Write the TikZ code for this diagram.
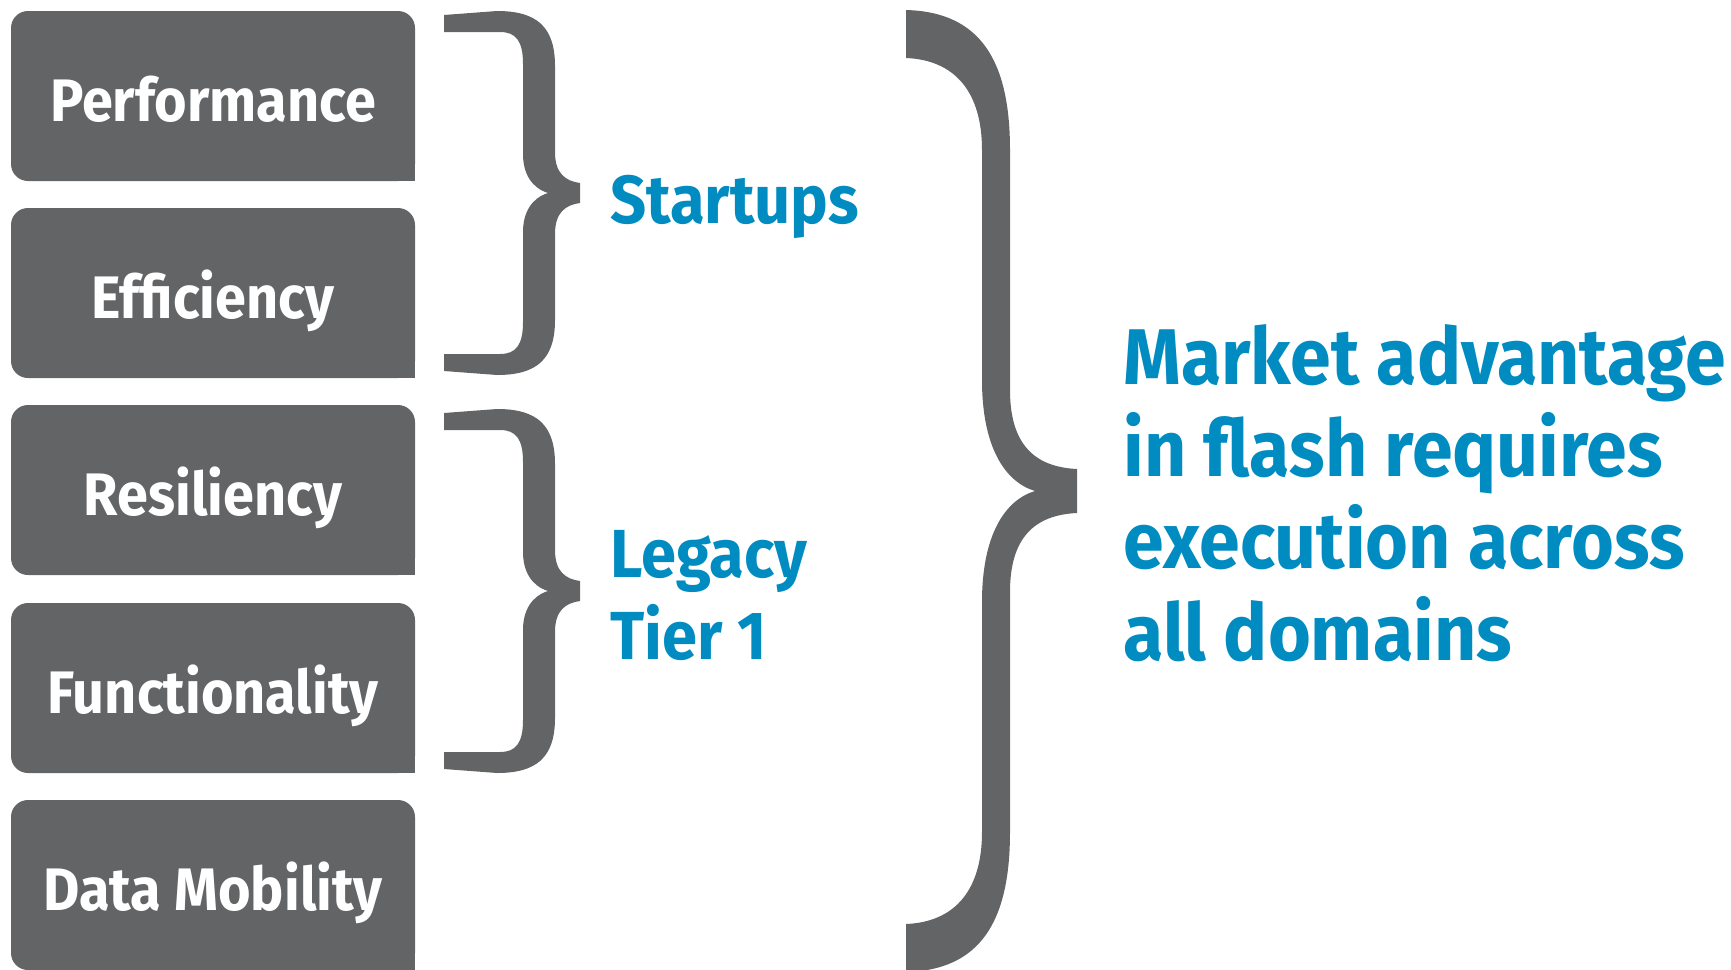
\documentclass[tikz,border=0pt]{standalone}
\usepackage{fontspec}
\setmainfont{Fira Sans}[FakeStretch=0.93]
\definecolor{hpgray}{RGB}{99,100,102}
\definecolor{hpblue}{RGB}{0,139,193}

\begin{document}
\begin{tikzpicture}[x=0.5pt, y=-0.5pt,
  domainbox/.style={fill=hpgray, rounded corners=8.5pt, minimum width=202pt, minimum height=85pt,
    inner sep=0pt, text height=25pt, text depth=0pt, text=white,
    font=\fontsize{30}{36}\selectfont\bfseries},
  grouplabel/.style={text=hpblue, inner sep=0pt, anchor=base west, align=left,
    font=\fontsize{34}{41}\selectfont\bfseries},
  claimlabel/.style={text=hpblue, inner sep=0pt, anchor=base west, align=left,
    font=\fontsize{39.5}{46}\selectfont\bfseries},
  smallbrace/.pic={
    \fill[hpgray] (444,15) -- (497,11) .. controls (537,11) and (555,27) .. (555,66)
      -- (555,152) .. controls (555,173) and (565,181) .. (580,183) -- (580,203)
      .. controls (565,205) and (555,213) .. (555,234) -- (555,320)
      .. controls (555,359) and (537,375) .. (497,375) -- (444,371) -- (444,354) -- (500,354)
      .. controls (516,354) and (523,345) .. (523,322) -- (523,232)
      .. controls (523,212) and (532,198) .. (548,193) .. controls (532,188) and (523,174) .. (523,154)
      -- (523,64) .. controls (523,41) and (516,32) .. (500,32) -- (444,32) -- cycle;
  }]
  \useasboundingbox (0,0) rectangle (1731,970);

  % the five domains
  \node[domainbox] (perf) at (213,96) {Performance};
  \node[domainbox] (eff) at (213,293) {Efficiency};
  \node[domainbox] (res) at (213,490) {Resiliency};
  \node[domainbox] (func) at (213,688) {Functionality};
  \node[domainbox] (mob) at (213,885) {Data Mobility};
  \fill[hpgray] (perf.south east) rectangle ++(-20,-20);
  \fill[hpgray] (eff.south east) rectangle ++(-20,-20);
  \fill[hpgray] (res.south east) rectangle ++(-20,-20);
  \fill[hpgray] (func.south east) rectangle ++(-20,-20);
  \fill[hpgray] (mob.south east) rectangle ++(-20,-20);

  % braces
  \pic at (0,0) {smallbrace};
  \pic at (0,398) {smallbrace};
  \fill[hpgray] (906,10) .. controls (980,12) and (1010,60) .. (1010,150) -- (1010,390)
    .. controls (1010,445) and (1035,467) .. (1077,469) -- (1077,513)
    .. controls (1035,515) and (1010,537) .. (1010,592) -- (1010,832)
    .. controls (1010,922) and (980,970) .. (906,972) -- (906,924)
    .. controls (955,922) and (982,890) .. (982,832) -- (982,602)
    .. controls (982,535) and (1005,500) .. (1035,491) .. controls (1005,482) and (982,447) .. (982,380)
    -- (982,150) .. controls (982,92) and (955,60) .. (906,58) -- cycle;

  \node[grouplabel] (startups) at (610,223) {Startups};
  \node[grouplabel] (legacy) at (610,659) {Legacy\\Tier 1};
  \node[claimlabel] (market) at (1123,660) {Market advantage\\in flash requires\\execution across\\all domains};
\end{tikzpicture}
\end{document}
